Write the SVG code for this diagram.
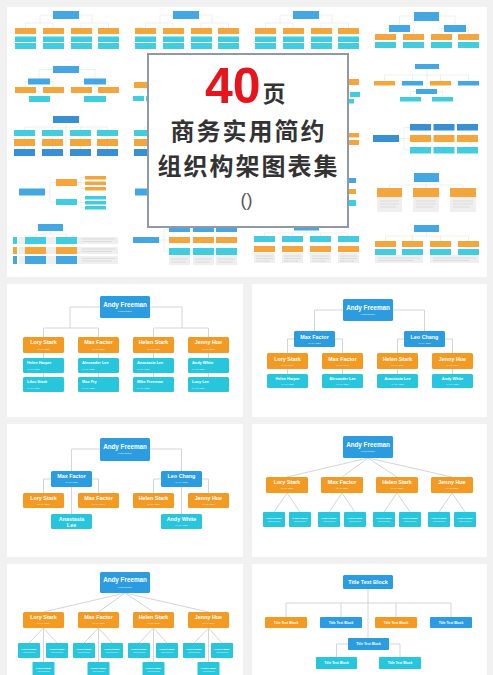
<svg xmlns="http://www.w3.org/2000/svg" width="493" height="675" viewBox="0 0 493 675">
<defs>
<style>
.b{fill:#2b9ce0}.o{fill:#f39a22}.c{fill:#27c6dc}.d{fill:#1d80cc}.gb{fill:#ededed}
.ln{fill:none;stroke:#d2d5d9;stroke-width:1}
.tl{fill:none;stroke:#d6dadd;stroke-width:0.5}
.gl{fill:none;stroke:#c9c9c9;stroke-width:0.6}
.n{font-family:"Liberation Sans",Arial,sans-serif;font-weight:bold;fill:#fff;text-anchor:middle}
.s{font-family:"Liberation Sans",Arial,sans-serif;fill:#fff;fill-opacity:.85;text-anchor:middle;font-size:2.5px}
.l{text-anchor:start}
.f6{font-size:6.3px}.f5{font-size:5.4px}.f4{font-size:3.9px}.f3{font-size:3.4px}.f2{font-size:2.4px}
.cjk{font-family:"Noto Sans CJK SC","Noto Sans CJK JP",sans-serif;font-weight:bold;text-anchor:middle;fill:#333}
</style>
</defs>
<rect width="493" height="675" fill="#f1f1f1"/>

<g id="collage">
<rect x="7" y="7" width="480" height="270" fill="#fff"/>
<g opacity="0.88">
<g id="thumbA">
<path class="tl" d="M53,15H40V23M79,15H92V23M25.5,23H53M81,23H108.5M25.5,23V28M53,23V28M81,23V28M108.5,23V28"/>
<rect class="b" x="53" y="11" width="26" height="8"/>
<rect class="o" x="15" y="28" width="21" height="6"/><rect class="o" x="43" y="28" width="21" height="6"/><rect class="o" x="71" y="28" width="21" height="6"/><rect class="o" x="98" y="28" width="21" height="6"/>
<rect class="c" x="15" y="36.5" width="21" height="5.5"/><rect class="c" x="43" y="36.5" width="21" height="5.5"/><rect class="c" x="71" y="36.5" width="21" height="5.5"/><rect class="c" x="98" y="36.5" width="21" height="5.5"/>
<rect class="c" x="15" y="43" width="21" height="6"/><rect class="c" x="43" y="43" width="21" height="6"/><rect class="c" x="71" y="43" width="21" height="6"/><rect class="c" x="98" y="43" width="21" height="6"/>
</g>
<use href="#thumbA" transform="translate(120,0)"/>
<use href="#thumbA" transform="translate(240,0)"/>
<g id="thumbD">
<path class="tl" d="M414,16H399.5V25M439,16H455V25M389,28.5H385.5V34M410,28.5H413.5V34M444,28.5H441.5V34M466,28.5H468.5V34"/>
<rect class="b" x="414" y="12" width="25" height="9"/>
<rect class="b" x="389" y="25" width="21" height="7"/><rect class="b" x="444" y="25" width="22" height="7"/>
<rect class="o" x="375" y="34" width="21" height="6"/><rect class="o" x="403" y="34" width="21" height="6"/><rect class="o" x="431" y="34" width="21" height="6"/><rect class="o" x="458" y="34" width="21" height="6"/>
<rect class="c" x="375" y="42" width="21" height="6"/><rect class="c" x="403" y="42" width="21" height="6"/><rect class="c" x="431" y="42" width="21" height="6"/><rect class="c" x="458" y="42" width="21" height="6"/>
</g>
<g id="thumbE">
<path class="tl" d="M53,69.5H39V96M79,69.5H95V96M28,81.5H25.5V87M50,81.5H53V87M84,81.5H81V87M106,81.5H108.5V87"/>
<rect class="b" x="53" y="66" width="26" height="7"/>
<rect class="b" x="28" y="78.5" width="22" height="6"/><rect class="b" x="84" y="78.5" width="22" height="6"/>
<rect class="o" x="15" y="87" width="21" height="6"/><rect class="o" x="43" y="87" width="21" height="6"/><rect class="o" x="71" y="87" width="21" height="6"/><rect class="o" x="98" y="87" width="21" height="6"/>
<rect class="c" x="29" y="96" width="21" height="6"/><rect class="c" x="84" y="96" width="22" height="6"/>
</g>
<g id="thumbF">
<path class="tl" d="M186,72L144.5,82M186,72L172.5,82M144.5,88L138.5,96M144.5,88L151,96"/>
<rect class="b" x="173" y="64" width="26" height="8"/>
<rect class="o" x="134" y="82" width="21" height="6"/><rect class="o" x="162" y="82" width="21" height="6"/>
<rect class="c" x="133" y="96" width="11" height="5"/><rect class="c" x="146" y="96" width="11" height="5"/>
</g>
<g id="thumbG">
<rect class="o" x="338" y="79" width="21" height="6"/>
<rect class="c" x="337" y="92" width="10" height="5"/><rect class="c" x="350" y="92" width="10" height="5"/>
<rect class="c" x="343" y="99" width="11" height="4.5"/>
</g>
<g id="thumbH">
<path class="tl" d="M427,69V89M384.5,75H468.5M384.5,75V81M412.5,75V81M440.5,75V81M468.5,75V81M416,91.5H410.5V97M437,91.5H442.5V97"/>
<rect class="b" x="415" y="64" width="24" height="5"/>
<rect class="o" x="374" y="81" width="21" height="4.5"/><rect class="b" x="402" y="81" width="21" height="4.5"/><rect class="o" x="430" y="81" width="21" height="4.5"/><rect class="b" x="458" y="81" width="21" height="4.5"/>
<rect class="b" x="416" y="89" width="21" height="5"/>
<rect class="c" x="400" y="97" width="21" height="4.5"/><rect class="c" x="432" y="97" width="21" height="4.5"/>
</g>
<g id="thumbI">
<path class="tl" d="M66,123V156M24.5,127H107.5M24.5,127V130M52.5,127V130M80.5,127V130M107.5,127V130M24.5,136V139M52.5,136V139M80.5,136V139M107.5,136V139M24.5,146V149M52.5,146V149M80.5,146V149M107.5,146V149"/>
<rect class="d" x="53" y="116" width="26" height="7"/>
<rect class="c" x="14" y="130" width="21" height="6"/><rect class="c" x="42" y="130" width="21" height="6"/><rect class="c" x="70" y="130" width="21" height="6"/><rect class="c" x="97" y="130" width="21" height="6"/>
<rect class="o" x="14" y="139" width="21" height="7"/><rect class="o" x="42" y="139" width="21" height="7"/><rect class="o" x="70" y="139" width="21" height="7"/><rect class="o" x="97" y="139" width="21" height="7"/>
<rect class="d" x="14" y="149" width="21" height="7"/><rect class="d" x="42" y="149" width="21" height="7"/><rect class="d" x="70" y="149" width="21" height="7"/><rect class="d" x="97" y="149" width="21" height="7"/>
</g>
<use href="#thumbI" transform="translate(120,0)"/>
<g id="thumbK">
<rect class="o" x="338" y="133" width="21" height="4.5"/><rect class="o" x="338" y="140" width="21" height="5"/>
</g>
<g id="thumbL">
<path class="tl" d="M399,138.5H404M404,127.5V150M404,127.5H410M404,138.5H410M404,150H410"/>
<rect class="d" x="373" y="135" width="26" height="7"/>
<rect class="d" x="410" y="124" width="21" height="6.5"/><rect class="d" x="433.5" y="124" width="21" height="6.5"/><rect class="d" x="457" y="124" width="21" height="6.5"/>
<rect class="o" x="410" y="135" width="21" height="7"/><rect class="o" x="433.5" y="135" width="21" height="7"/><rect class="o" x="457" y="135" width="21" height="7"/>
<rect class="c" x="410" y="147" width="21" height="6.5"/><rect class="c" x="433.5" y="147" width="21" height="6.5"/><rect class="c" x="457" y="147" width="21" height="6.5"/>
</g>
<g id="thumbM">
<path class="tl" d="M45,192H50M50,182.5V202M50,182.5H56M50,202H56M77,182.5H81M81,177.5V188.5M81,177.5H85M81,183H85M81,188.5H85M77,202H81M81,197.5V207.5M81,197.5H85M81,202.5H85M81,207.5H85"/>
<rect class="b" x="19" y="188.5" width="26" height="7"/>
<rect class="o" x="56" y="179" width="21" height="7"/>
<rect class="c" x="56" y="199" width="21" height="6"/>
<rect class="o" x="85" y="176" width="21" height="3.5"/><rect class="o" x="85" y="181.5" width="21" height="3.5"/><rect class="o" x="85" y="187" width="21" height="3.5"/>
<rect class="c" x="85" y="196" width="21" height="3.5"/><rect class="c" x="85" y="201" width="21" height="3.5"/><rect class="c" x="85" y="206" width="21" height="3.5"/>
</g>
<use href="#thumbM" transform="translate(116,0)"/>
<g id="thumbO">
<rect class="b" x="332" y="178" width="24" height="5"/>
<rect class="o" x="332" y="189" width="24" height="5"/>
<rect class="c" x="332" y="200" width="24" height="6"/>
</g>
<g id="thumbP">
<path class="tl" d="M426.5,182V185M389.5,185H463M389.5,185V188M426,185V188M463,185V188"/>
<rect class="b" x="414" y="173" width="25" height="9"/>
<rect class="o" x="377" y="188" width="25" height="9"/><rect class="o" x="413" y="188" width="26" height="9"/><rect class="o" x="450" y="188" width="26" height="9"/>
<rect class="gb" x="377" y="197" width="25" height="15"/><rect class="gb" x="413" y="197" width="26" height="15"/><rect class="gb" x="450" y="197" width="26" height="15"/>
<path class="gl" d="M380,201H399M380,204H399M380,207H396M416,201H436M416,204H436M416,207H433M453,201H473M453,204H473M453,207H470"/>
</g>
<g id="thumbQ">
<path class="tl" d="M50.5,231V234M35.5,234H66.5M35.5,234V237M66.5,234V237"/>
<rect class="b" x="38" y="224" width="25" height="7"/>
<rect class="gb" x="19" y="237" width="99" height="7"/><rect class="gb" x="19" y="247" width="99" height="7"/><rect class="gb" x="19" y="256" width="99" height="8"/>
<rect class="c" x="13" y="237" width="4" height="7"/><rect class="o" x="13" y="247" width="4" height="7"/><rect class="b" x="13" y="256" width="4" height="8"/>
<rect class="c" x="25" y="237" width="21" height="7"/><rect class="c" x="56" y="237" width="21" height="7"/>
<rect class="o" x="25" y="247" width="21" height="7"/><rect class="o" x="56" y="247" width="21" height="7"/>
<rect class="b" x="25" y="256" width="21" height="8"/><rect class="b" x="56" y="256" width="21" height="8"/>
<path class="gl" d="M82,239H115M82,241.5H112M82,249H115M82,251.5H112M82,258.5H115M82,261H112"/>
</g>
<g id="thumbR">
<path class="tl" d="M159,240H164M164,229.5V251.5M164,229.5H169M164,240H169M164,251.5H169"/>
<rect class="b" x="133" y="237" width="26" height="6"/>
<rect class="b" x="169" y="227" width="21" height="5"/><rect class="b" x="193" y="227" width="21" height="5"/><rect class="b" x="216" y="227" width="21" height="5"/>
<rect class="o" x="169" y="237" width="21" height="6"/><rect class="o" x="193" y="237" width="21" height="6"/><rect class="o" x="216" y="237" width="21" height="6"/>
<rect class="c" x="169" y="248" width="21" height="7"/><rect class="c" x="193" y="248" width="21" height="7"/><rect class="c" x="216" y="248" width="21" height="7"/>
<rect class="gb" x="169" y="256" width="21" height="9"/><rect class="gb" x="193" y="256" width="21" height="9"/><rect class="gb" x="216" y="256" width="21" height="9"/>
<path class="gl" d="M171,259H188M171,262H186M195,259H212M195,262H210M218,259H235M218,262H233"/>
</g>
<g id="thumbS">
<path class="tl" d="M306.5,230.5V233M264.5,233H348M264.5,233V236M292.5,233V236M320.5,233V236M348,233V236"/>
<rect class="b" x="294" y="226" width="25" height="4.5"/>
<rect class="c" x="254" y="236" width="21" height="6"/><rect class="c" x="282" y="236" width="21" height="6"/><rect class="c" x="310" y="236" width="21" height="6"/><rect class="c" x="338" y="236" width="21" height="6"/>
<rect class="o" x="254" y="246" width="21" height="6"/><rect class="o" x="282" y="246" width="21" height="6"/><rect class="o" x="310" y="246" width="21" height="6"/><rect class="o" x="338" y="246" width="21" height="6"/>
<rect class="gb" x="254" y="253" width="21" height="10"/><rect class="gb" x="282" y="253" width="21" height="10"/><rect class="gb" x="310" y="253" width="21" height="10"/><rect class="gb" x="338" y="253" width="21" height="10"/>
<path class="gl" d="M256,256H273M256,258.5H273M256,261H270M284,256H301M284,258.5H301M284,261H298M312,256H329M312,258.5H329M312,261H326M340,256H357M340,258.5H357M340,261H354"/>
</g>
<g id="thumbT">
<path class="tl" d="M426.5,232V236M385.5,236H468.5M385.5,236V241M412.5,236V241M440.5,236V241M468.5,236V241"/>
<rect class="b" x="414" y="225" width="25" height="7"/>
<rect class="o" x="375" y="241" width="21" height="6"/><rect class="o" x="402" y="241" width="21" height="6"/><rect class="o" x="430" y="241" width="21" height="6"/><rect class="o" x="458" y="241" width="21" height="6"/>
<rect class="c" x="375" y="249" width="21" height="6"/><rect class="c" x="402" y="249" width="21" height="6"/><rect class="c" x="430" y="249" width="21" height="6"/><rect class="c" x="458" y="249" width="21" height="6"/>
<rect class="gb" x="375" y="255" width="48" height="8"/><rect class="gb" x="430" y="255" width="49" height="8"/>
<path class="gl" d="M378,258H420M378,260.5H414M433,258H476M433,260.5H470"/>
</g>
</g>
</g>

<g id="card">
<rect x="148" y="54" width="200" height="173" fill="#fff" stroke="#8f9aa6" stroke-width="2"/>
<text x="205" y="103" font-family="Liberation Sans,Arial,sans-serif" font-weight="bold" font-size="50" fill="#e8141c">40</text>
<text x="274" y="102" class="cjk" font-size="23" fill="#222">页</text>
<text x="248.5" y="139.5" class="cjk" font-size="24" letter-spacing="2">商务实用简约</text>
<text x="248.5" y="174.5" class="cjk" font-size="24" letter-spacing="2">组织构架图表集</text>
<text x="246.5" y="206" font-family="Liberation Sans,Arial,sans-serif" font-size="18" fill="#555" text-anchor="middle">()</text>
</g>

<g id="panels-bg" fill="#fff">
<rect x="7" y="284" width="236" height="133"/>
<rect x="252" y="284" width="235" height="133"/>
<rect x="7" y="424" width="236" height="133"/>
<rect x="252" y="424" width="235" height="133"/>
<rect x="7" y="564" width="236" height="111"/>
<rect x="252" y="564" width="235" height="111"/>
</g>

<g id="connectors" class="ln">
<path d="M100,307H70V328M150,307H182V328M43.5,328H98.5M153.5,328H208.5M43.5,328V337M98.5,328V337M153.5,328V337M208.5,328V337M43.5,353V358M98.5,353V358M153.5,353V358M208.5,353V358M43.5,373V377M98.5,373V377M153.5,373V377M208.5,373V377"/>
<path d="M343,310H314.5V331M393,310H424.5V331M294,339H287.5V353M335,339H342.5V353M404,339H397.5V353M445,339H452.5V353M287.5,369V374M342.5,369V374M397.5,369V374M452.5,369V374"/>
<path d="M100,449H71.5V514M150,449H181.5V514M51,479H43.5V493M92,479H98.5V493M161,479H153.5V493M202,479H208.5V493"/>
<path d="M368,458L287,477M368,458L342,477M368,458L397,477M368,458L452,477M287,493L274,512M287,493L300,512M342,493L329,512M342,493L355,512M397,493L384,512M397,493L410,512M452,493L439,512M452,493L465,512"/>
<path d="M125,593L43.5,612M125,593L98.5,612M125,593L153.5,612M125,593L208.5,612M43.5,628L29,643M43.5,628L57,643M43.5,628V662M98.5,628L84,643M98.5,628L112,643M98.5,628V662M153.5,628L139,643M153.5,628L167,643M153.5,628V662M208.5,628L194,643M208.5,628L222,643M208.5,628V662"/>
<path d="M368,589V638M286,603H451M286,603V617M341,603V617M396,603V617M451,603V617M348,644H336.5V657M389,644H400V657"/>
</g>

<g id="p1-top"><rect class="b" x="100" y="296" width="50" height="22" rx="1.5"/><text class="n f6" x="125" y="307">Andy Freeman</text><text class="s" x="125" y="312">PRESIDENT</text></g>
<g id="p1-o1"><rect class="o" x="23" y="337" width="41" height="16" rx="1.5"/><text class="n f5" x="43.5" y="344">Lory Stark</text><text class="s" x="43.5" y="349.5">MANAGER</text></g>
<g id="p1-o2"><rect class="o" x="78" y="337" width="41" height="16" rx="1.5"/><text class="n f5" x="98.5" y="344">Max Factor</text><text class="s" x="98.5" y="349.5">MANAGER</text></g>
<g id="p1-o3"><rect class="o" x="133" y="337" width="41" height="16" rx="1.5"/><text class="n f5" x="153.5" y="344">Helen Stark</text><text class="s" x="153.5" y="349.5">MANAGER</text></g>
<g id="p1-o4"><rect class="o" x="188" y="337" width="41" height="16" rx="1.5"/><text class="n f5" x="208.5" y="344">Jenny Hue</text><text class="s" x="208.5" y="349.5">MANAGER</text></g>
<g id="p1-c1"><rect class="c" x="23" y="358" width="41" height="15" rx="1.5"/><text class="n f4 l" x="27" y="364">Helen Harper</text><text class="s l" x="27" y="369.5">MANAGER</text></g>
<g id="p1-c2"><rect class="c" x="78" y="358" width="41" height="15" rx="1.5"/><text class="n f4 l" x="82" y="364">Alexander Lee</text><text class="s l" x="82" y="369.5">MANAGER</text></g>
<g id="p1-c3"><rect class="c" x="133" y="358" width="41" height="15" rx="1.5"/><text class="n f4 l" x="137" y="364">Anastasia Lee</text><text class="s l" x="137" y="369.5">MANAGER</text></g>
<g id="p1-c4"><rect class="c" x="188" y="358" width="41" height="15" rx="1.5"/><text class="n f4 l" x="192" y="364">Andy White</text><text class="s l" x="192" y="369.5">MANAGER</text></g>
<g id="p1-c5"><rect class="c" x="23" y="377" width="41" height="15" rx="1.5"/><text class="n f4 l" x="27" y="383">Lilou Stark</text><text class="s l" x="27" y="388.5">MANAGER</text></g>
<g id="p1-c6"><rect class="c" x="78" y="377" width="41" height="15" rx="1.5"/><text class="n f4 l" x="82" y="383">Max Fry</text><text class="s l" x="82" y="388.5">MANAGER</text></g>
<g id="p1-c7"><rect class="c" x="133" y="377" width="41" height="15" rx="1.5"/><text class="n f4 l" x="137" y="383">Mike Freeman</text><text class="s l" x="137" y="388.5">MANAGER</text></g>
<g id="p1-c8"><rect class="c" x="188" y="377" width="41" height="15" rx="1.5"/><text class="n f4 l" x="192" y="383">Lucy Lee</text><text class="s l" x="192" y="388.5">MANAGER</text></g>

<g id="p2-top"><rect class="b" x="343" y="299" width="50" height="22" rx="1.5"/><text class="n f6" x="368" y="309.5">Andy Freeman</text><text class="s" x="368" y="314.5">PRESIDENT</text></g>
<g id="p2-m1"><rect class="b" x="294" y="331" width="41" height="16" rx="1.5"/><text class="n f5" x="314.5" y="338.5">Max Factor</text><text class="s" x="314.5" y="343.5">MANAGER</text></g>
<g id="p2-m2"><rect class="b" x="404" y="331" width="41" height="16" rx="1.5"/><text class="n f5" x="424.5" y="338.5">Leo Chang</text><text class="s" x="424.5" y="343.5">MANAGER</text></g>
<g id="p2-o1"><rect class="o" x="267" y="353" width="41" height="16" rx="1.5"/><text class="n f5" x="287.5" y="360.5">Lory Stark</text><text class="s" x="287.5" y="365.5">MANAGER</text></g>
<g id="p2-o2"><rect class="o" x="322" y="353" width="41" height="16" rx="1.5"/><text class="n f5" x="342.5" y="360.5">Max Factor</text><text class="s" x="342.5" y="365.5">MANAGER</text></g>
<g id="p2-o3"><rect class="o" x="377" y="353" width="41" height="16" rx="1.5"/><text class="n f5" x="397.5" y="360.5">Helen Stark</text><text class="s" x="397.5" y="365.5">MANAGER</text></g>
<g id="p2-o4"><rect class="o" x="432" y="353" width="41" height="16" rx="1.5"/><text class="n f5" x="452.5" y="360.5">Jenny Hue</text><text class="s" x="452.5" y="365.5">MANAGER</text></g>
<g id="p2-c1"><rect class="c" x="267" y="374" width="41" height="14" rx="1.5"/><text class="n f4" x="287.5" y="380">Helen Harper</text><text class="s" x="287.5" y="384.5">MANAGER</text></g>
<g id="p2-c2"><rect class="c" x="322" y="374" width="41" height="14" rx="1.5"/><text class="n f4" x="342.5" y="380">Alexander Lee</text><text class="s" x="342.5" y="384.5">MANAGER</text></g>
<g id="p2-c3"><rect class="c" x="377" y="374" width="41" height="14" rx="1.5"/><text class="n f4" x="397.5" y="380">Anastasia Lee</text><text class="s" x="397.5" y="384.5">MANAGER</text></g>
<g id="p2-c4"><rect class="c" x="432" y="374" width="41" height="14" rx="1.5"/><text class="n f4" x="452.5" y="380">Andy White</text><text class="s" x="452.5" y="384.5">MANAGER</text></g>

<g id="p3-top"><rect class="b" x="100" y="438" width="50" height="23" rx="1.5"/><text class="n f6" x="125" y="448.5">Andy Freeman</text><text class="s" x="125" y="454">PRESIDENT</text></g>
<g id="p3-m1"><rect class="b" x="51" y="471" width="41" height="16" rx="1.5"/><text class="n f5" x="71.5" y="478">Max Factor</text><text class="s" x="71.5" y="483">MANAGER</text></g>
<g id="p3-m2"><rect class="b" x="161" y="471" width="41" height="16" rx="1.5"/><text class="n f5" x="181.5" y="478">Leo Chang</text><text class="s" x="181.5" y="483">MANAGER</text></g>
<g id="p3-o1"><rect class="o" x="23" y="493" width="41" height="15" rx="1.5"/><text class="n f5" x="43.5" y="499.5">Lory Stark</text><text class="s" x="43.5" y="504.5">MANAGER</text></g>
<g id="p3-o2"><rect class="o" x="78" y="493" width="41" height="15" rx="1.5"/><text class="n f5" x="98.5" y="499.5">Max Factor</text><text class="s" x="98.5" y="504.5">MANAGER</text></g>
<g id="p3-o3"><rect class="o" x="133" y="493" width="41" height="15" rx="1.5"/><text class="n f5" x="153.5" y="499.5">Helen Stark</text><text class="s" x="153.5" y="504.5">MANAGER</text></g>
<g id="p3-o4"><rect class="o" x="188" y="493" width="41" height="15" rx="1.5"/><text class="n f5" x="208.5" y="499.5">Jenny Hue</text><text class="s" x="208.5" y="504.5">MANAGER</text></g>
<g id="p3-c1"><rect class="c" x="51" y="514" width="41" height="15" rx="1.5"/><text class="n f5"><tspan x="71.5" y="520.5">Anastasia</tspan><tspan x="71.5" y="526.5">Lee</tspan></text></g>
<g id="p3-c2"><rect class="c" x="161" y="514" width="41" height="15" rx="1.5"/><text class="n f5" x="181.5" y="521">Andy White</text><text class="s" x="181.5" y="526">MANAGER</text></g>

<g id="p4-top"><rect class="b" x="343" y="436" width="50" height="22" rx="1.5"/><text class="n f6" x="368" y="446.5">Andy Freeman</text><text class="s" x="368" y="452">PRESIDENT</text></g>
<g id="p4-o1"><rect class="o" x="266" y="477" width="42" height="16" rx="1.5"/><text class="n f5" x="287" y="484">Lory Stark</text><text class="s" x="287" y="489">MANAGER</text></g>
<g id="p4-o2"><rect class="o" x="321" y="477" width="42" height="16" rx="1.5"/><text class="n f5" x="342" y="484">Max Factor</text><text class="s" x="342" y="489">MANAGER</text></g>
<g id="p4-o3"><rect class="o" x="376" y="477" width="42" height="16" rx="1.5"/><text class="n f5" x="397" y="484">Helen Stark</text><text class="s" x="397" y="489">MANAGER</text></g>
<g id="p4-o4"><rect class="o" x="431" y="477" width="42" height="16" rx="1.5"/><text class="n f5" x="452" y="484">Jenny Hue</text><text class="s" x="452" y="489">MANAGER</text></g>
<g id="p4-c1"><rect class="c" x="263" y="512" width="22" height="15" rx="1"/><text class="n f2" x="274" y="518.5">Project Name</text><text class="s" x="274" y="522">Information</text></g>
<g id="p4-c2"><rect class="c" x="289" y="512" width="22" height="15" rx="1"/><text class="n f2" x="300" y="518.5">Project Name</text><text class="s" x="300" y="522">Information</text></g>
<g id="p4-c3"><rect class="c" x="318" y="512" width="22" height="15" rx="1"/><text class="n f2" x="329" y="518.5">Project Name</text><text class="s" x="329" y="522">Information</text></g>
<g id="p4-c4"><rect class="c" x="344" y="512" width="22" height="15" rx="1"/><text class="n f2" x="355" y="518.5">Project Name</text><text class="s" x="355" y="522">Information</text></g>
<g id="p4-c5"><rect class="c" x="373" y="512" width="22" height="15" rx="1"/><text class="n f2" x="384" y="518.5">Project Name</text><text class="s" x="384" y="522">Information</text></g>
<g id="p4-c6"><rect class="c" x="399" y="512" width="22" height="15" rx="1"/><text class="n f2" x="410" y="518.5">Project Name</text><text class="s" x="410" y="522">Information</text></g>
<g id="p4-c7"><rect class="c" x="428" y="512" width="22" height="15" rx="1"/><text class="n f2" x="439" y="518.5">Project Name</text><text class="s" x="439" y="522">Information</text></g>
<g id="p4-c8"><rect class="c" x="454" y="512" width="22" height="15" rx="1"/><text class="n f2" x="465" y="518.5">Project Name</text><text class="s" x="465" y="522">Information</text></g>

<g id="p5-top"><rect class="b" x="100" y="572" width="50" height="21" rx="1.5"/><text class="n f6" x="125" y="582">Andy Freeman</text><text class="s" x="125" y="587.5">PRESIDENT</text></g>
<g id="p5-o1"><rect class="o" x="23" y="612" width="41" height="16" rx="1.5"/><text class="n f5" x="43.5" y="619">Lory Stark</text><text class="s" x="43.5" y="624">MANAGER</text></g>
<g id="p5-o2"><rect class="o" x="78" y="612" width="41" height="16" rx="1.5"/><text class="n f5" x="98.5" y="619">Max Factor</text><text class="s" x="98.5" y="624">MANAGER</text></g>
<g id="p5-o3"><rect class="o" x="133" y="612" width="41" height="16" rx="1.5"/><text class="n f5" x="153.5" y="619">Helen Stark</text><text class="s" x="153.5" y="624">MANAGER</text></g>
<g id="p5-o4"><rect class="o" x="188" y="612" width="41" height="16" rx="1.5"/><text class="n f5" x="208.5" y="619">Jenny Hue</text><text class="s" x="208.5" y="624">MANAGER</text></g>
<g id="p5-c1"><rect class="c" x="18" y="643" width="22" height="15" rx="1"/><text class="n f2" x="29" y="649.5">Project Name</text><text class="s" x="29" y="653">Information</text></g>
<g id="p5-c2"><rect class="c" x="46" y="643" width="22" height="15" rx="1"/><text class="n f2" x="57" y="649.5">Project Name</text><text class="s" x="57" y="653">Information</text></g>
<g id="p5-c3"><rect class="c" x="32.5" y="662" width="22" height="15" rx="1"/><text class="n f2" x="43.5" y="668.5">Project Name</text><text class="s" x="43.5" y="672">Information</text></g>
<g id="p5-c4"><rect class="c" x="73" y="643" width="22" height="15" rx="1"/><text class="n f2" x="84" y="649.5">Project Name</text><text class="s" x="84" y="653">Information</text></g>
<g id="p5-c5"><rect class="c" x="101" y="643" width="22" height="15" rx="1"/><text class="n f2" x="112" y="649.5">Project Name</text><text class="s" x="112" y="653">Information</text></g>
<g id="p5-c6"><rect class="c" x="87.5" y="662" width="22" height="15" rx="1"/><text class="n f2" x="98.5" y="668.5">Project Name</text><text class="s" x="98.5" y="672">Information</text></g>
<g id="p5-c7"><rect class="c" x="128" y="643" width="22" height="15" rx="1"/><text class="n f2" x="139" y="649.5">Project Name</text><text class="s" x="139" y="653">Information</text></g>
<g id="p5-c8"><rect class="c" x="156" y="643" width="22" height="15" rx="1"/><text class="n f2" x="167" y="649.5">Project Name</text><text class="s" x="167" y="653">Information</text></g>
<g id="p5-c9"><rect class="c" x="142.5" y="662" width="22" height="15" rx="1"/><text class="n f2" x="153.5" y="668.5">Project Name</text><text class="s" x="153.5" y="672">Information</text></g>
<g id="p5-c10"><rect class="c" x="183" y="643" width="22" height="15" rx="1"/><text class="n f2" x="194" y="649.5">Project Name</text><text class="s" x="194" y="653">Information</text></g>
<g id="p5-c11"><rect class="c" x="211" y="643" width="22" height="15" rx="1"/><text class="n f2" x="222" y="649.5">Project Name</text><text class="s" x="222" y="653">Information</text></g>
<g id="p5-c12"><rect class="c" x="197.5" y="662" width="22" height="15" rx="1"/><text class="n f2" x="208.5" y="668.5">Project Name</text><text class="s" x="208.5" y="672">Information</text></g>

<g id="p6-top"><rect class="b" x="343" y="575" width="50" height="14" rx="1.5"/><text class="n f5" x="368" y="584">Title Text Block</text></g>
<g id="p6-r1"><rect class="o" x="265" y="617" width="42" height="11" rx="1"/><text class="n f3" x="286" y="623.8">Title Text Block</text></g>
<g id="p6-r2"><rect class="b" x="320" y="617" width="42" height="11" rx="1"/><text class="n f3" x="341" y="623.8">Title Text Block</text></g>
<g id="p6-r3"><rect class="o" x="375" y="617" width="42" height="11" rx="1"/><text class="n f3" x="396" y="623.8">Title Text Block</text></g>
<g id="p6-r4"><rect class="b" x="430" y="617" width="42" height="11" rx="1"/><text class="n f3" x="451" y="623.8">Title Text Block</text></g>
<g id="p6-m"><rect class="b" x="348" y="638" width="41" height="12" rx="1"/><text class="n f3" x="368.5" y="645.3">Title Text Block</text></g>
<g id="p6-c1"><rect class="c" x="316" y="657" width="41" height="12" rx="1"/><text class="n f3" x="336.5" y="664.3">Title Text Block</text></g>
<g id="p6-c2"><rect class="c" x="379" y="657" width="42" height="12" rx="1"/><text class="n f3" x="400" y="664.3">Title Text Block</text></g>
</svg>
